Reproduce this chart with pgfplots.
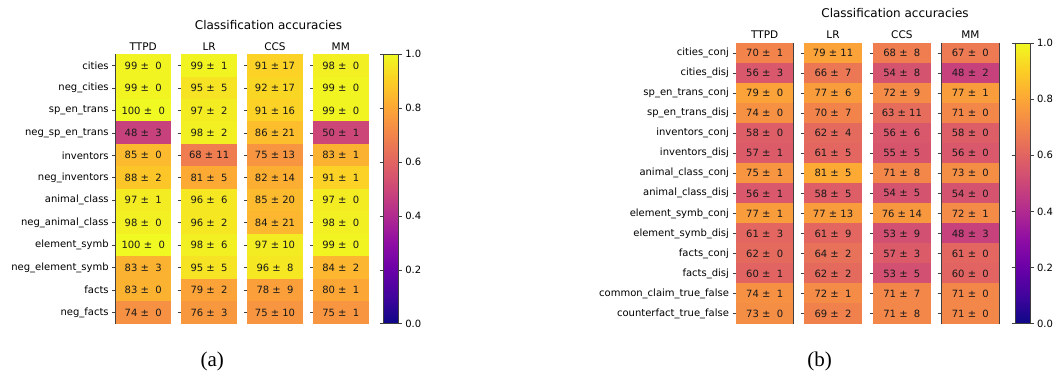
\documentclass[border=0pt]{standalone}
\usepackage{pgfplots}
\usepackage{pgfplotstable}
\pgfplotsset{compat=1.18}
\usepackage{fontspec}
\setmainfont{DejaVu Sans}
\newfontfamily\capfont{Liberation Serif}

\pgfplotstableread{
r t tsd l lsd c csd m msd
0 99 0 99 1 91 17 98 0
1 99 0 95 5 92 17 99 0
2 100 0 97 2 91 16 99 0
3 48 3 98 2 86 21 50 1
4 85 0 68 11 75 13 83 1
5 88 2 81 5 82 14 91 1
6 97 1 96 6 85 20 97 0
7 98 0 96 2 84 21 98 0
8 100 0 98 6 97 10 99 0
9 83 3 95 5 96 8 84 2
10 83 0 79 2 78 9 80 1
11 74 0 76 3 75 10 75 1
}\tabA

\pgfplotstableread{
r t tsd l lsd c csd m msd
0 70 1 79 11 68 8 67 0
1 56 3 66 7 54 8 48 2
2 79 0 77 6 72 9 77 1
3 74 0 70 7 63 11 71 0
4 58 0 62 4 56 6 58 0
5 57 1 61 5 55 5 56 0
6 75 1 81 5 71 8 73 0
7 56 1 58 5 54 5 54 0
8 77 1 77 13 76 14 72 1
9 61 3 61 9 53 9 48 3
10 62 0 64 2 57 3 61 0
11 60 1 62 2 53 5 60 0
12 74 1 72 1 71 7 71 0
13 73 0 69 2 71 8 71 0
}\tabB

\pgfdeclareplotmark{cellA}{\pgfpathrectangle{\pgfpoint{-27.7pt}{-11.4pt}}{\pgfpoint{55.4pt}{22.8pt}}\pgfusepathqfill}
\pgfdeclareplotmark{cellB}{\pgfpathrectangle{\pgfpoint{-28.8pt}{-10.2pt}}{\pgfpoint{57.6pt}{20.4pt}}\pgfusepathqfill}

\newcommand\cellnum[2]{\pgfmathprintnumber[fixed,precision=0,assume math mode=true]{#1}\ ±\ \ifdim#2pt<9.5pt\ \fi\pgfmathprintnumber[fixed,precision=0,assume math mode=true]{#2}}

\pgfplotsset{
  colormap={plasma}{rgb255=(13,8,135) rgb255=(65,4,157) rgb255=(106,0,168) rgb255=(143,13,164) rgb255=(177,42,144) rgb255=(204,71,120) rgb255=(225,100,98) rgb255=(242,132,75) rgb255=(252,166,54) rgb255=(252,206,37) rgb255=(240,249,33)},
  hm/.style={scale only axis, axis on top, y dir=reverse, xmin=-0.5, xmax=0.5, xtick=\empty,
    ytick pos=left, tick align=outside, major tick length=3.5pt,
    every tick/.style={black!75, line width=0.6pt},
    axis line style={black!75, line width=0.7pt},
    point meta min=0, point meta max=1, colormap name=plasma,
    tick label style={font=\fontsize{10}{12}\selectfont},
    yticklabels={},
    title style={font=\fontsize{10.5}{12}\selectfont, at={(0.5,1)}, anchor=base, yshift=-1.8pt},
    clip=false, anchor=south west},
  pa/.style={hm, width=55pt, height=269.4pt, ytick={0,...,11}, ymin=-0.5, ymax=11.5},
  pb/.style={hm, width=57.3pt, height=280.7pt, ytick={0,...,13}, ymin=-0.5, ymax=13.5},
  cellstyle/.style={scatter, only marks, point meta=explicit,
    scatter/use mapped color={draw=none, fill=mapped color}},
  numstyle/.style={only marks, mark=none, point meta=explicit,
    nodes near coords={\cellnum{\acc}{\sd}},
    nodes near coords style={anchor=center, inner sep=0pt, font=\fontsize{10}{12}\selectfont, text=black!90}},
  cb/.style={colorbar, colorbar style={at={(parent axis.north east)}, anchor=north west, xshift=#1,
    width=15pt, ytick={0,0.2,...,1}, tick align=outside, major tick length=3.5pt,
    every tick/.style={black!75, line width=0.6pt},
    axis line style={black!75, line width=0.7pt},
    yticklabel style={font=\fontsize{10}{12}\selectfont, /pgf/number format/.cd, fixed, fixed zerofill, precision=1, assume math mode=true}}},
}
% one heatmap column: #1 table, #2 mark, #3 value column, #4 std column
\newcommand\hmcol[4]{%
  \addplot[cellstyle, mark=#2] table[x expr=0, y=r, meta expr=\thisrow{#3}/100] {#1};
  \addplot[numstyle, visualization depends on={\thisrow{#3} \as \acc}, visualization depends on={\thisrow{#4} \as \sd}] table[x expr=0, y=r, meta=#3] {#1};
}

\begin{document}
\begin{tikzpicture}
\path[use as bounding box] (0pt,0pt) rectangle (1057pt,375pt);

% ---------- panel (a)
\node[font=\fontsize{12}{14}\selectfont, anchor=base] at (268.5pt,345.7pt) {Classification accuracies};
\begin{axis}[pa, at={(115.7pt,51.3pt)}, title={TTPD},
  yticklabels={cities,neg\_cities,sp\_en\_trans,neg\_sp\_en\_trans,inventors,neg\_inventors,animal\_class,neg\_animal\_class,element\_symb,neg\_element\_symb,facts,neg\_facts}]
\hmcol{\tabA}{cellA}{t}{tsd}
\end{axis}
\begin{axis}[pa, at={(181.6pt,51.3pt)}, title={LR}]
\hmcol{\tabA}{cellA}{l}{lsd}
\end{axis}
\begin{axis}[pa, at={(247.5pt,51.3pt)}, title={CCS}]
\hmcol{\tabA}{cellA}{c}{csd}
\end{axis}
\begin{axis}[pa, at={(313.3pt,51.3pt)}, title={MM}, cb=6.5pt]
\hmcol{\tabA}{cellA}{m}{msd}
\end{axis}
\node[font=\capfont\fontsize{21}{24}\selectfont] at (212.3pt,13.3pt) {(a)};

% ---------- panel (b)
\node[font=\fontsize{12}{14}\selectfont, anchor=base] at (895pt,357.7pt) {Classification accuracies};
\begin{axis}[pb, at={(736pt,51.3pt)}, title={TTPD},
  yticklabels={cities\_conj,cities\_disj,sp\_en\_trans\_conj,sp\_en\_trans\_disj,inventors\_conj,inventors\_disj,animal\_class\_conj,animal\_class\_disj,element\_symb\_conj,element\_symb\_disj,facts\_conj,facts\_disj,common\_claim\_true\_false,counterfact\_true\_false}]
\hmcol{\tabB}{cellB}{t}{tsd}
\end{axis}
\begin{axis}[pb, at={(804.4pt,51.3pt)}, title={LR}]
\hmcol{\tabB}{cellB}{l}{lsd}
\end{axis}
\begin{axis}[pb, at={(873.2pt,51.3pt)}, title={CCS}]
\hmcol{\tabB}{cellB}{c}{csd}
\end{axis}
\begin{axis}[pb, at={(941.7pt,51.3pt)}, title={MM}, cb=7.5pt]
\hmcol{\tabB}{cellB}{m}{msd}
\end{axis}
\node[font=\capfont\fontsize{21}{24}\selectfont] at (819.7pt,13.3pt) {(b)};
\end{tikzpicture}
\end{document}
